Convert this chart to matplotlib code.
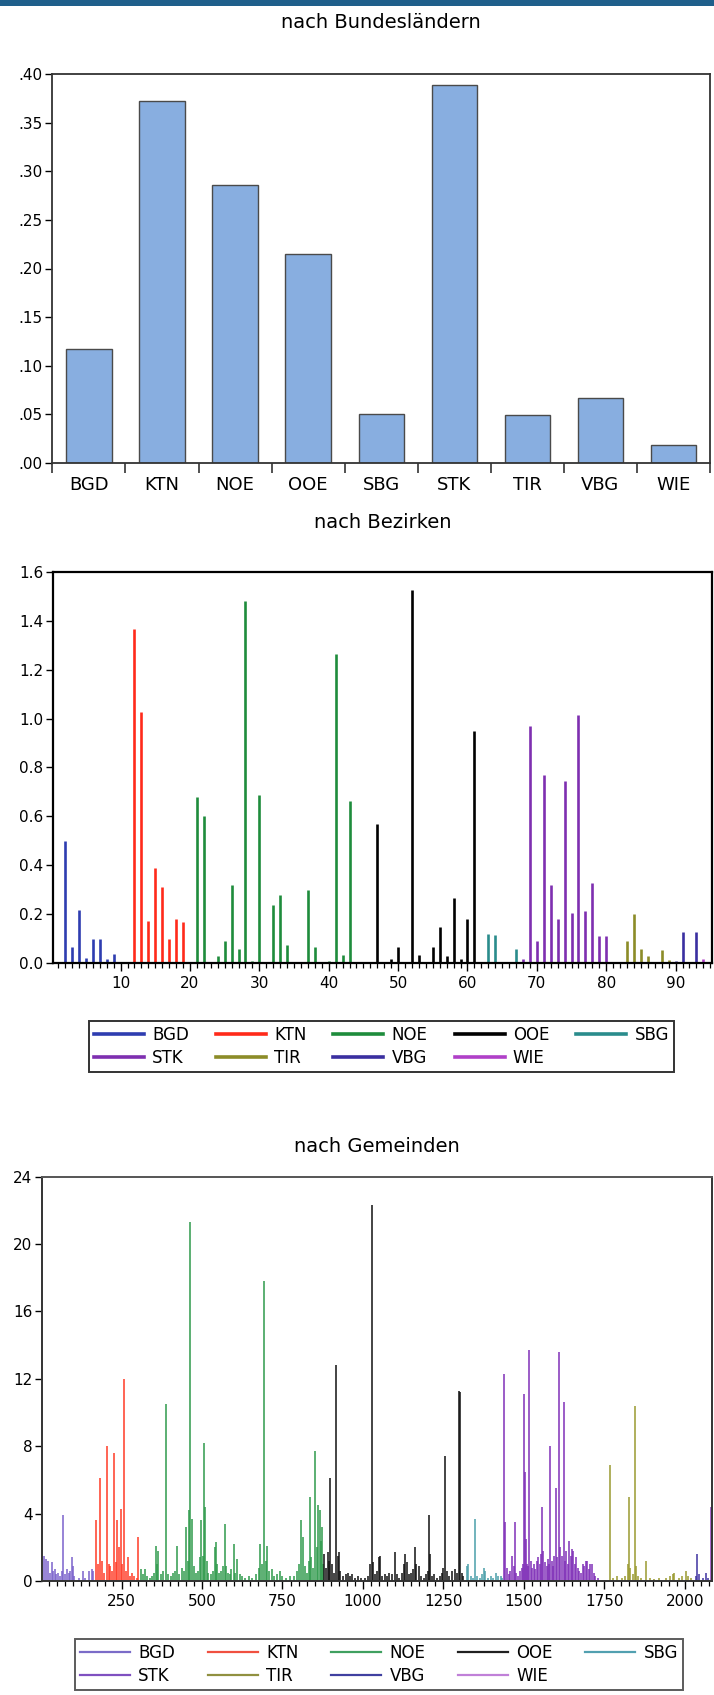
import matplotlib
matplotlib.use('Agg')
import matplotlib.pyplot as plt
from matplotlib.lines import Line2D
from matplotlib.patches import Rectangle
from matplotlib.ticker import MultipleLocator, FuncFormatter, FixedLocator
import numpy as np

plt.rcParams['font.family'] = ['DejaVu Sans']

W, H, DPI = 714, 1695, 100

# ---------------- data ----------------
states = ['BGD', 'KTN', 'NOE', 'OOE', 'SBG', 'STK', 'TIR', 'VBG', 'WIE']
land_values = [0.117, 0.372, 0.286, 0.215, 0.050, 0.389, 0.049, 0.067, 0.019]

# Bezirke 1..94
bez_values = [0.0, 0.50, 0.068, 0.218, 0.023, 0.10, 0.10, 0.016, 0.037,          # 1-9
              0.0, 0.0, 1.367, 1.027, 0.174, 0.388, 0.31, 0.099, 0.181, 0.167,   # 10-19
              0.0, 0.68, 0.60, 0.0, 0.03, 0.093, 0.32, 0.06, 1.48, 0.01,         # 20-29
              0.687, 0.0, 0.24, 0.28, 0.075, 0.0, 0.0, 0.30, 0.068, 0.0,         # 30-39
              0.01, 1.265, 0.034, 0.663, 0.0, 0.0, 0.0, 0.571, 0.0, 0.016,       # 40-49
              0.065, 0.0, 1.524, 0.034, 0.0, 0.065, 0.147, 0.031, 0.265, 0.019,  # 50-59
              0.18, 0.948, 0.0, 0.118, 0.116, 0.004, 0.0, 0.06, 0.016, 0.969,    # 60-69
              0.09, 0.771, 0.32, 0.18, 0.744, 0.204, 1.013, 0.215, 0.327, 0.11,  # 70-79
              0.11, 0.0, 0.0, 0.09, 0.2, 0.057, 0.031, 0.0, 0.054, 0.014,        # 80-89
              0.008, 0.127, 0.0, 0.127, 0.016]                                   # 90-94
bez_state_start = [1, 10, 20, 45, 62, 68, 81, 90, 94]

# Gemeinden: positions and values of visible spikes
gem_x = [8, 14, 22, 28, 33, 38, 43, 48, 53, 58, 64, 69, 75, 80, 86, 90, 95, 98, 104, 118, 129, 136, 150, 157, 162,
         172, 177, 183, 190, 197, 205, 210, 215, 222, 227, 232, 237, 243, 248, 252, 258, 264, 270, 276, 282, 290, 297, 300,
         310, 316, 322, 330, 338, 345, 352, 356, 360, 364, 372, 380, 389, 395, 403, 410, 417, 422, 430, 438, 444, 451,
         456, 460, 464, 468, 474, 480, 487, 493, 498, 502, 506, 510, 514, 520, 527, 533, 539, 544, 547, 553, 560, 566,
         571, 575, 580, 586, 591, 598, 603, 610, 617, 625, 633, 645, 655, 668, 676, 681, 687, 694, 698, 702, 708, 717,
         725, 733, 741, 750, 760, 772, 785, 795, 801, 808, 813, 820, 827, 832, 836, 840, 846, 852, 856, 860, 865, 869,
         873, 876,
         880, 885, 890, 895, 899, 904, 910, 917, 921, 924, 930, 938, 946, 952, 960, 966, 975, 985, 995, 1005, 1015,
         1022, 1027, 1031, 1038, 1045, 1050, 1054, 1060, 1068, 1075, 1082, 1090, 1098, 1105, 1112, 1120, 1128, 1132,
         1137, 1143, 1150, 1156, 1161, 1166, 1173, 1180, 1188, 1195, 1202, 1206, 1209, 1214, 1222, 1230, 1238, 1245,
         1250, 1255, 1260, 1268, 1278, 1287, 1292, 1299, 1302, 1306, 1312,
         1322, 1326, 1334, 1341, 1349, 1355, 1362, 1370, 1377, 1380, 1388, 1398, 1405, 1413, 1418, 1428, 1433,
         1439, 1442, 1447, 1452, 1458, 1464, 1468, 1472, 1476, 1482, 1488, 1494, 1498, 1501, 1503, 1506, 1510, 1514,
         1517, 1521, 1526, 1530, 1535, 1540, 1545, 1549, 1553, 1557, 1560, 1565, 1570, 1575, 1578, 1582, 1586, 1590,
         1594, 1599, 1603, 1609, 1613, 1618, 1623, 1627, 1632, 1636, 1640, 1645, 1649, 1653, 1657, 1662, 1667, 1672,
         1677, 1682, 1687, 1692, 1697, 1702, 1706, 1711, 1716, 1722, 1730,
         1767, 1775, 1790, 1805, 1815, 1822, 1826, 1830, 1838, 1844, 1848, 1855, 1865, 1878, 1890, 1905, 1918, 1940,
         1955, 1962, 1966, 1980, 1990, 2002, 2010, 2018,
         2035, 2038, 2045, 2055, 2065, 2072,
         2082]
gem_y = [1.5, 1.3, 1.2, 0.5, 1.1, 0.6, 0.7, 0.4, 0.5, 0.3, 0.6, 3.9, 0.4, 0.7, 0.5, 0.6, 1.4, 0.9, 0.3, 0.2, 0.6, 0.2, 0.6, 0.7, 0.6,
         3.6, 1.0, 6.1, 1.2, 0.5, 8.0, 1.0, 0.9, 0.6, 7.6, 1.1, 3.6, 2.0, 4.3, 1.0, 12.0, 0.6, 1.4, 0.3, 0.5, 0.3, 0.2, 2.6,
         0.7, 0.4, 0.7, 0.3, 0.2, 0.3, 0.5, 2.1, 1.0, 1.8, 0.4, 0.6, 10.5, 0.4, 0.3, 0.5, 0.6, 2.1, 0.4, 0.8, 0.6, 3.2,
         1.2, 4.2, 21.3, 3.7, 0.9, 0.5, 0.6, 1.4, 3.6, 1.5, 8.2, 4.4, 1.2, 0.5, 0.4, 0.6, 2.0, 2.3, 1.0, 0.5, 0.6, 0.9,
         3.4, 0.9, 0.5, 0.4, 0.7, 2.2, 0.5, 1.3, 0.4, 0.3, 0.2, 0.3, 0.2, 0.4, 0.8, 2.2, 1.0, 17.8, 1.2, 2.1, 0.6, 0.7,
         0.3, 0.4, 0.6, 0.3, 0.2, 0.3, 0.3, 0.6, 1.0, 3.6, 2.6, 0.9, 0.5, 1.2, 5.0, 1.4, 0.8, 7.7, 2.0, 4.5, 4.2, 2.4,
         3.2, 1.0,
         1.6, 0.8, 1.7, 1.2, 6.1, 1.0, 0.5, 12.8, 1.5, 1.7, 0.6, 0.3, 0.4, 0.5, 0.3, 0.4, 0.2, 0.3, 0.2, 0.2, 0.3,
         1.0, 22.3, 1.1, 0.4, 0.6, 1.4, 1.5, 0.3, 0.4, 0.3, 0.5, 0.4, 1.7, 0.4, 0.2, 0.5, 1.0, 1.6,
         1.1, 0.4, 0.5, 0.7, 2.0, 1.0, 0.9, 0.3, 0.2, 0.4, 0.6, 3.9, 1.6, 0.3, 0.4, 0.2, 0.3, 0.5,
         0.8, 7.4, 0.6, 0.3, 0.6, 0.7, 0.5, 11.3, 11.2, 0.5, 0.3,
         0.9, 1.0, 0.3, 0.2, 3.7, 0.3, 0.2, 0.4, 0.8, 0.6, 0.2, 0.3, 0.2, 0.5, 0.3, 0.3, 0.2,
         12.3, 3.5, 0.8, 0.4, 0.6, 1.5, 0.9, 3.5, 0.5, 0.3, 0.6, 0.8, 1.0, 11.1, 6.5, 2.5, 1.0, 0.9,
         13.7, 1.2, 0.8, 1.0, 0.7, 1.2, 1.4, 1.0, 1.6, 4.4, 1.8, 1.1, 0.9, 1.3, 1.0, 8.0, 1.2, 0.9,
         1.5, 5.5, 1.4, 13.6, 2.0, 1.5, 10.6, 1.2, 1.8, 1.0, 2.4, 1.5, 1.9, 1.8, 1.0, 1.4, 0.8, 0.6,
         0.5, 1.0, 0.9, 1.2, 1.2, 0.7, 1.0, 1.0, 0.5, 0.3, 0.2,
         6.9, 0.2, 0.3, 0.2, 0.3, 1.0, 5.0, 0.8, 0.4, 10.4, 0.9, 0.3, 0.2, 1.2, 0.2, 0.1, 0.2, 0.2,
         0.3, 0.4, 0.5, 0.2, 0.3, 0.6, 0.3, 0.2,
         0.3, 1.6, 0.4, 0.2, 0.5, 0.2,
         4.4]
gem_state_start = [1, 170, 306, 878, 1318, 1436, 1755, 2030, 2081]

# colours
bez_colors = ['#2E3DB0', '#FF2A1A', '#1E8C3C', '#000000', '#2A8C8C',
              '#7E2FB0', '#8C8C28', '#3A2FA0', '#B040C8']
gem_colors = ['#7A62CC', '#FF3A26', '#2F9A4C', '#111111', '#4A9FAA',
              '#8030B8', '#9A9A30', '#3F33A0', '#9040C0']
gem_leg_colors = ['#7B6CC8', '#F05040', '#40A060', '#202020', '#52A0B0',
                  '#7F50C0', '#909040', '#4040A0', '#C080D8']


def state_of(x, starts):
    k = 0
    for i, s in enumerate(starts):
        if x >= s:
            k = i
    return k


def rect(l, r, t, b):
    return [l / W, 1 - b / H, (r - l) / W, (b - t) / H]


fig = plt.figure(figsize=(W / DPI, H / DPI), dpi=DPI)
fig.patch.set_facecolor('white')
fig.add_artist(Rectangle((0, 1 - 6 / H), 1, 6 / H, transform=fig.transFigure,
                         facecolor='#1F5F8B', edgecolor='none'))

TICK_FS = 11

# ---------------- top panel ----------------
ax1 = fig.add_axes(rect(52.4, 710, 74, 463))
xs = np.arange(1, len(states) + 1)
ax1.bar(xs, land_values, width=0.62, color='#88AEE0', edgecolor='#4A4A4A', linewidth=1.0)
ax1.set_xlim(0.5, len(states) + 0.5)
ax1.set_ylim(0, 0.40)
ax1.yaxis.set_major_locator(MultipleLocator(0.05))
ax1.yaxis.set_major_formatter(FuncFormatter(lambda v, _: f"{v:.2f}".lstrip('0') if v > 0 else ".00"))
ax1.set_xticks(xs)
ax1.set_xticklabels(states, fontsize=13)
ax1.xaxis.set_minor_locator(FixedLocator(np.arange(0.5, len(states) + 1, 1.0)))
ax1.tick_params(axis='x', which='major', length=0, pad=9)
ax1.tick_params(axis='x', which='minor', length=7, width=1.2, direction='out', color='#333333')
ax1.tick_params(axis='y', length=5, width=1.0, direction='out', labelsize=TICK_FS, pad=2)
for s in ax1.spines.values():
    s.set_linewidth(1.3)
    s.set_color('#333333')
fig.text((52.4 + 710) / 2 / W, 1 - 23 / H, 'nach Bundesländern', ha='center', va='center', fontsize=14)

# ---------------- middle panel ----------------
ax2 = fig.add_axes(rect(53.3, 711.7, 571.7, 963.3))
bx = np.arange(1, len(bez_values) + 1)
bcols = [bez_colors[state_of(x, bez_state_start)] for x in bx]
ax2.vlines(bx, 0, bez_values, colors=bcols, linewidth=1.9)
ax2.set_xlim(0.3, 95.2)
ax2.set_ylim(0, 1.6)
ax2.yaxis.set_major_locator(MultipleLocator(0.2))
ax2.yaxis.set_major_formatter(FuncFormatter(lambda v, _: f"{v:.1f}"))
ax2.xaxis.set_major_locator(MultipleLocator(10))
ax2.xaxis.set_minor_locator(MultipleLocator(1))
ax2.xaxis.set_major_formatter(FuncFormatter(lambda v, _: f"{int(v)}" if v > 0 else ""))
ax2.tick_params(axis='x', which='major', length=6, width=1.0, direction='out', labelsize=TICK_FS, pad=3)
ax2.tick_params(axis='x', which='minor', length=3.5, width=0.9, direction='out')
ax2.tick_params(axis='y', length=5, width=1.0, direction='out', labelsize=TICK_FS, pad=2)
for s in ax2.spines.values():
    s.set_linewidth(1.6)
    s.set_color('black')
fig.text((53.3 + 711.7) / 2 / W, 1 - 522 / H, 'nach Bezirken', ha='center', va='center', fontsize=14)

handles = [Line2D([0], [0], color=c, lw=2.6) for c in bez_colors]
order = [0, 5, 1, 6, 2, 7, 3, 8, 4]
l1 = (88.8, 674, 1021, 1072)
fig.legend([handles[i] for i in order], [states[i] for i in order], loc='upper left',
           bbox_to_anchor=(l1[0] / W, 1 - l1[3] / H, (l1[1] - l1[0]) / W, (l1[3] - l1[2]) / H),
           mode='expand', ncol=5, frameon=True, fancybox=False, edgecolor='black',
           borderaxespad=0, fontsize=12, handlelength=3.0, handletextpad=0.5,
           borderpad=0.3, labelspacing=0.28, columnspacing=1.0).get_frame().set_linewidth(1.4)

# ---------------- bottom panel ----------------
ax3 = fig.add_axes(rect(42.3, 712, 1176.7, 1581))
gcols = [gem_colors[state_of(x, gem_state_start)] for x in gem_x]
ax3.vlines(gem_x, 0, gem_y, colors=gcols, linewidth=1.1)
ax3.set_xlim(4, 2084)
ax3.set_ylim(0, 24)
ax3.yaxis.set_major_locator(MultipleLocator(4))
ax3.xaxis.set_major_locator(FixedLocator([250, 500, 750, 1000, 1250, 1500, 1750, 2000]))
ax3.xaxis.set_minor_locator(MultipleLocator(25))
ax3.tick_params(axis='x', which='major', length=6, width=1.0, direction='out', labelsize=TICK_FS, pad=3)
ax3.tick_params(axis='x', which='minor', length=3.5, width=0.9, direction='out')
ax3.tick_params(axis='y', length=5, width=1.0, direction='out', labelsize=TICK_FS, pad=2)
for s in ax3.spines.values():
    s.set_linewidth(1.4)
    s.set_color('#333333')
ax3.spines['top'].set_color('#555555')
fig.text((42.3 + 712) / 2 / W, 1 - 1146 / H, 'nach Gemeinden', ha='center', va='center', fontsize=14)

handles3 = [Line2D([0], [0], color=c, lw=1.6) for c in gem_leg_colors]
l2 = (75, 683, 1639, 1694)
fig.legend([handles3[i] for i in order], [states[i] for i in order], loc='upper left',
           bbox_to_anchor=(l2[0] / W, 1 - l2[3] / H, (l2[1] - l2[0]) / W, (l2[3] - l2[2]) / H),
           mode='expand', ncol=5, frameon=True, fancybox=False, edgecolor='#333333',
           borderaxespad=0, fontsize=12, handlelength=3.0, handletextpad=0.5,
           borderpad=0.3, labelspacing=0.3, columnspacing=1.0).get_frame().set_linewidth(1.4)

fig.savefig('out.png', dpi=DPI, facecolor='white')
